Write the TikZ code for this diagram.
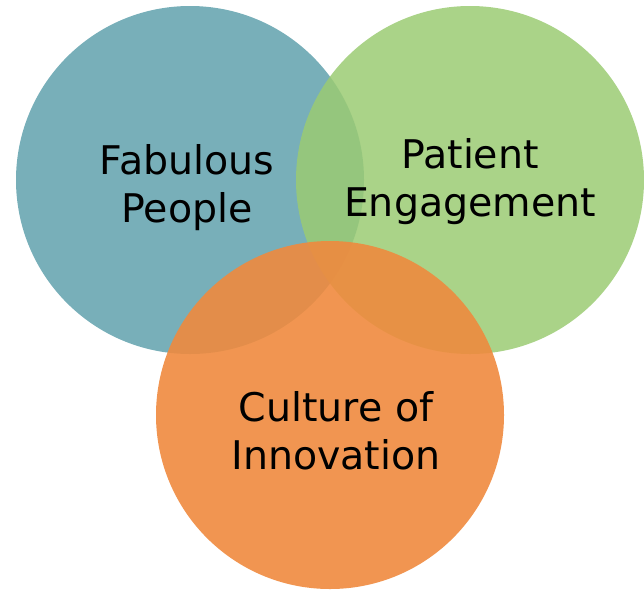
\documentclass[tikz,border=0pt]{standalone}
\usepackage{fontspec}
\setmainfont{DejaVu Sans}

\definecolor{blueish}{HTML}{78AFB9}
\definecolor{greenish}{HTML}{9BCB73}
\definecolor{orangeish}{HTML}{EF8A3E}

\begin{document}
\begin{tikzpicture}[x=1pt, y=-1pt,
    ring/.style = {circle, minimum size=348pt, inner sep=0pt, outer sep=0pt},
    label/.style = {align=center, font=\fontsize{39.5}{48}\selectfont}]
            \useasboundingbox (0,0) rectangle (644,590);
            % the three circles, later ones on top
            \node[ring, fill=blueish] (people) at (190,180) {};
            \node[ring, fill=greenish, fill opacity=0.85] (patient) at (470,180) {};
            \node[ring, fill=orangeish, fill opacity=0.9] (culture) at (330,415) {};
            % texts
            \node[label] (peopletext) at (187,188) {Fabulous\\People};
            \node[label] (patienttext) at (470,182) {Patient\\Engagement};
            \node[label] (culturetext) at (336,431) {Culture of\\Innovation};
        \end{tikzpicture}
\end{document}
